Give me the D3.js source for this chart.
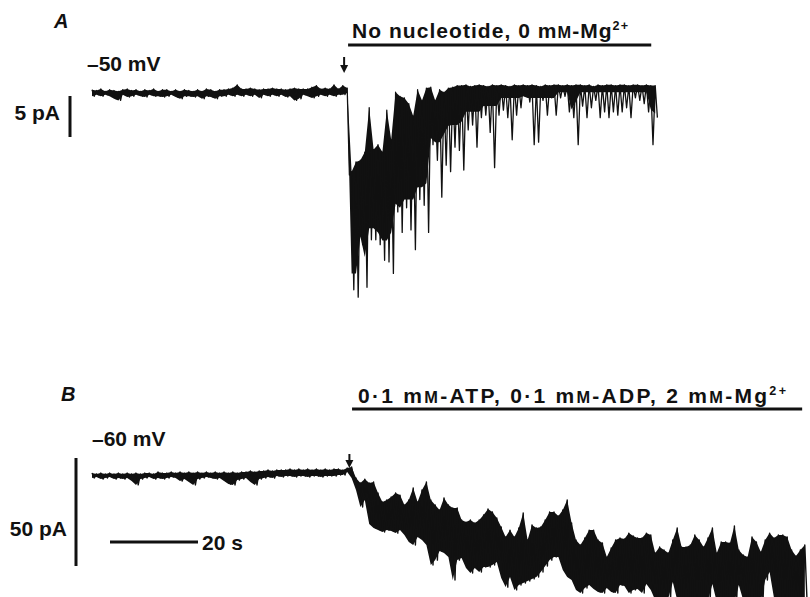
<!DOCTYPE html>
<html>
<head>
<meta charset="utf-8">
<script src="https://cdn.jsdelivr.net/npm/d3@7"></script>
<style>
body { margin: 0; background: #fff; }
text { font-family: "Liberation Sans", Arial, Helvetica, sans-serif; font-weight: bold; fill: #111; }
</style>
</head>
<body>
<svg id="fig" width="810" height="597"></svg>
<script>
//////////////// data ////////////////
// one sample per second, t = 0 at the solution change (arrow)
var tStart = -58;

// trace A, -50 mV, current in pA: upper and lower edge of the trace at each second
var hiA = [0.4,0.3,0.5,0.2,0.4,0.3,0.2,0.4,0.5,0.3,
  0.4,0.2,0.4,0.3,0.5,0.2,0.4,0.4,0.2,0.4,
  0.2,0.4,0.3,0.2,0.4,0.2,0.5,0.4,0.2,0.4,
  0.4,0.5,0.6,1.0,0.5,0.5,0.6,0.5,0.4,0.5,
  0.5,0.6,0.5,0.5,0.4,0.5,0.6,0.5,0.5,0.5,
  0.7,0.9,0.5,0.6,0.5,1.0,0.5,0.9,
  0.6,-9.6,-8.4,-8.2,-7.2,-1.8,-6.9,-6.3,-7.2,-2.1,
  -5.7,0.1,-0.4,-0.6,-1.3,-2.8,0.4,-0.9,0.6,0.7,
  -0.9,0.4,0.1,0.6,0.7,0.9,0.9,1.0,0.8,0.9,
  1.0,0.9,0.8,1.0,0.9,1.0,0.9,0.8,1.0,0.9,
  1.0,0.9,1.0,0.9,0.8,1.0,0.9,1.0,1.0,0.9,
  1.0,0.9,1.0,1.0,0.9,1.0,0.8,1.0,0.9,1.0,
  1.0,0.9,1.0,1.0,0.9,1.0,1.0,0.9,1.0,0.9,0.9];
var loA = [-0.4,-0.2,-0.4,-0.2,-0.4,-0.7,-0.9,-0.2,-0.5,-0.4,
  -0.2,-0.4,-0.5,-0.2,-0.4,-0.4,-0.5,-0.4,-0.2,-0.5,
  -0.7,-0.4,-0.4,-0.5,-0.4,-0.7,-0.4,-0.5,-0.7,-0.4,
  -0.4,-0.2,-0.4,-0.2,-0.4,-0.2,-0.4,-0.2,-0.6,-0.2,
  -0.4,-0.2,-0.4,-0.2,-0.5,-0.4,-0.9,-0.7,-0.2,-0.4,
  -0.6,-0.4,-0.2,-0.4,-0.2,-0.4,-0.2,-0.2,
  -10.0,-24.0,-24.9,-18.5,-23.7,-17.9,-17.9,-18.5,-20.4,-20.6,
  -22.0,-14.5,-17.0,-14.0,-16.7,-19.1,-13.0,-13.7,-17.0,-6.3,
  -8.2,-12.7,-8.8,-9.6,-6.6,-7.0,-9.4,-4.5,-3.9,-6.6,
  -3.0,-2.7,-4.8,-9.1,-2.7,-2.1,-3.0,-5.7,-2.7,-1.8,
  -0.4,-1.1,-6.3,-6.0,-0.9,-2.7,-0.6,-2.7,-0.6,-0.4,
  -2.3,-3.0,-6.3,-1.6,-3.0,-1.8,-0.9,-3.0,-2.3,-3.0,
  -2.3,-2.7,-2.3,-1.8,-3.0,-0.6,-0.9,-1.3,-2.3,-6.3,-3.0];
// lower edge of the solid part of trace A after the change (before it, the band is solid)
var coreA = [0.0,-22.0,-22.0,-17.5,-20.0,-16.5,-16.5,-17.0,-18.0,-18.0,
  -17.0,-13.5,-14.0,-13.0,-13.0,-13.0,-11.5,-11.5,-11.0,-5.5,
  -6.0,-6.0,-5.0,-4.0,-3.9,-3.9,-3.5,-2.3,-2.3,-2.3,
  -2.3,-1.6,-1.6,-1.6,-1.6,-0.6,-0.6,-0.6,-0.6,-0.6,
  -0.6,-0.6,-0.6,-0.6,-0.6,-0.6,-0.6,-0.6,0.1,0.1,
  0.1,-2.0,-1.0,0.1,0.1,0.1,0.1,0.1,0.1,0.1,
  0.1,0.1,0.1,0.1,0.1,0.1,0.1,0.1,0.1,-2.0,-2.5];

// trace B, -60 mV, current in pA
var hiB = [0.9,0.5,0.9,0.5,0.9,0.5,0.9,0.5,0.9,0.5,
  0.9,0.5,0.9,0.9,0.5,1.4,0.9,0.9,1.4,0.9,
  1.4,0.9,1.4,0.9,1.4,0.9,1.4,0.9,1.4,0.9,
  1.4,0.9,1.4,0.9,1.4,1.4,1.9,1.4,1.9,1.9,
  2.3,1.9,2.3,2.3,2.3,2.8,2.3,2.8,2.3,2.8,
  2.3,2.8,2.3,2.8,2.3,2.8,2.8,2.3,
  3.2,3.7,-1.4,-3.7,-1.9,-3.7,-3.2,-8.3,-12.5,-11.6,
  -10.2,-8.3,-9.3,-13.9,-11.6,-6.0,-12.5,-6.9,-3.2,-11.6,
  -13.9,-16.2,-10.6,-13.9,-15.3,-15.3,-20.8,-21.8,-20.8,-22.2,
  -20.8,-18.5,-15.7,-17.1,-19.9,-24.1,-28.7,-25.5,-28.7,-24.5,
  -17.6,-30.1,-23.1,-24.5,-24.1,-20.8,-17.1,-17.1,-19.0,-16.2,
  -11.6,-22.2,-30.1,-32.4,-29.2,-25.5,-25.5,-30.1,-31.5,-38.0,
  -33.8,-30.1,-29.2,-29.6,-26.9,-28.2,-29.2,-29.2,-26.9,-27.8,
  -36.1,-33.3,-34.7,-36.1,-30.1,-24.5,-33.3,-33.3,-32.4,-27.8,
  -30.1,-33.3,-29.2,-24.5,-36.1,-31.0,-31.0,-31.5,-23.6,-34.7,
  -37.0,-38.0,-28.7,-31.0,-35.6,-30.1,-26.9,-29.2,-27.8,-27.8,
  -28.7,-34.7,-37.5,-34.7,-32.4];
var loB = [-1.4,-0.9,-1.9,-1.4,-0.9,-1.9,-1.4,-1.9,-1.4,-2.8,
  -4.6,-1.9,-1.4,-0.9,-1.9,-1.4,-1.9,-1.4,-0.9,-1.4,
  -2.8,-1.9,-3.2,-4.6,-1.9,-1.4,-0.9,-1.4,-1.9,-1.4,
  -2.8,-4.2,-4.6,-2.3,-1.9,-1.4,-3.2,-4.6,-1.9,-1.4,
  -0.9,-1.4,-0.5,-0.9,-0.5,-0.5,-0.9,-0.5,-0.5,-0.9,
  -0.5,-0.5,-0.9,-0.5,-0.5,-0.5,0,0,
  1.4,-1.4,-6.9,-14.8,-11.6,-22.7,-24.5,-25.5,-26.4,-25.5,
  -25.9,-26.9,-25.5,-27.8,-31.0,-32.4,-28.7,-30.1,-32.4,-41.7,
  -39.4,-35.2,-36.1,-38.0,-48.6,-39.4,-38.4,-43.1,-45.4,-43.1,
  -44.9,-42.6,-42.6,-41.7,-40.3,-47.7,-51.9,-47.2,-53.2,-50.9,
  -50.0,-49.1,-48.1,-47.2,-44.9,-42.1,-39.4,-38.0,-38.0,-44.0,
  -47.2,-48.6,-53.2,-54.6,-52.3,-50.9,-52.8,-54.2,-54.6,-52.3,
  -54.2,-54.6,-50.9,-51.4,-54.6,-53.2,-52.8,-54.6,-50.5,-53.2,
  -57.9,-58.8,-57.9,-56.9,-49.5,-57.9,-58.8,-57.9,-56.9,-58.8,
  -57.9,-56.9,-57.9,-50.5,-58.8,-57.9,-56.9,-57.9,-58.8,-50.9,
  -57.9,-58.8,-57.9,-56.9,-58.8,-48.6,-44.9,-56.9,-57.9,-58.8,
  -56.9,-57.9,-58.8,-57.9,-57.9];

// solution application (s) and arrow time
var solA = [0.2, 69.1], arrowA = -0.7;
var solB = [1.1, 103.4], arrowB = 0.5;

// calibration bars
var barTime = 20, barA = 5, barB = 50;

//////////////// scales ////////////////
var svg = d3.select('#fig');
var x = d3.scaleLinear().domain([-58, 104]).range([92, 92 + 162 * 4.4]);
var yA = d3.scaleLinear().domain([0, -5]).range([93, 134]);
var yB = d3.scaleLinear().domain([0, -50]).range([475, 583]);

// solid floor of trace A: the lower edge before the change, the core after it
var floorA = hiA.map(function(h, i) {
  var k = i - (0 - tStart);
  return k < 0 ? loA[i] : Math.max(coreA[k], loA[i]);
});

// zigzag between the two edges, half a sample apart
function zigzag(hi, lo, y) {
  var pts = [];
  hi.forEach(function(h, i) {
    var t = tStart + i;
    pts.push([x(t), y(h)]);
    pts.push([x(t + 0.5), y(lo[i])]);
  });
  return d3.line()(pts);
}
function band(hi, lo, y) {
  return d3.area()
    .x(function(d, i) { return x(tStart + i); })
    .y0(function(d, i) { return y(lo[i]); })
    .y1(function(d) { return y(d); })(hi);
}

// trace A
svg.append('path').attr('d', band(hiA, floorA, yA)).attr('fill', '#111');
svg.append('path')
  .attr('d', zigzag(hiA, loA, yA))
  .attr('fill', 'none').attr('stroke', '#111').attr('stroke-width', 1.3)
  .attr('stroke-linejoin', 'round');

// trace B
svg.append('path').attr('d', band(hiB, loB, yB)).attr('fill', '#111');
svg.append('path')
  .attr('d', zigzag(hiB, loB, yB))
  .attr('fill', 'none').attr('stroke', '#111').attr('stroke-width', 1.4)
  .attr('stroke-linejoin', 'round');

//////////////// bars, arrows and labels ////////////////
function hline(x1, x2, y, w) {
  svg.append('line').attr('x1', x1).attr('x2', x2).attr('y1', y).attr('y2', y)
    .attr('stroke', '#111').attr('stroke-width', w);
}
function vline(xp, y1, y2, w) {
  svg.append('line').attr('x1', xp).attr('x2', xp).attr('y1', y1).attr('y2', y2)
    .attr('stroke', '#111').attr('stroke-width', w);
}
function arrow(xp, yTop, yTip) {
  vline(xp, yTop, yTip - 5, 2);
  svg.append('path')
    .attr('d', 'M' + (xp - 4) + ',' + (yTip - 8) + 'L' + (xp + 4) + ',' + (yTip - 8) + 'L' + xp + ',' + yTip + 'Z')
    .attr('fill', '#111');
}
function label(xp, yp, parts, opts) {
  opts = opts || {};
  var t = svg.append('text').attr('x', xp).attr('y', yp)
    .attr('font-size', opts.size || 21)
    .attr('text-anchor', opts.anchor || 'start');
  if (opts.italic) t.attr('font-style', 'italic');
  if (opts.length) t.attr('textLength', opts.length).attr('lengthAdjust', 'spacing');
  parts.forEach(function(p) {
    var s = t.append('tspan').text(p[0]);
    if (p[1] === 'sc') s.attr('font-size', '0.78em');
    if (p[1] === 'sup') s.attr('font-size', '0.6em').attr('dy', -8);
  });
}

// panel A
label(54, 28, [['A']], { italic: true, size: 20 });
label(87, 71, [['–50 mV']]);
label(60, 120, [['5 pA']], { anchor: 'end' });
vline(70, 96, 96 + (yA(-barA) - yA(0)), 3);
hline(x(solA[0]), x(solA[1]), 45, 3);
label(352, 38, [['No nucleotide, 0 m'], ['M', 'sc'], ['-Mg'], ['2+', 'sup']], { size: 21, length: 276 });
arrow(x(arrowA), 57, 73);

// panel B
label(61, 401, [['B']], { italic: true, size: 20 });
label(92, 446, [['–60 mV']]);
label(67, 536, [['50 pA']], { anchor: 'end' });
vline(76, 458, 458 + (yB(-barB) - yB(0)), 3);
hline(110, 110 + (x(barTime) - x(0)), 542, 3);
label(202, 550, [['20 s']]);
hline(x(solB[0]), x(solB[1]), 409, 3);
label(358, 403, [['0·1 m'], ['M', 'sc'], ['-ATP, 0·1 m'], ['M', 'sc'], ['-ADP, 2 m'], ['M', 'sc'], ['-Mg'], ['2+', 'sup']], { size: 21, length: 428 });
arrow(x(arrowB), 454, 468);
</script>
</body>
</html>
